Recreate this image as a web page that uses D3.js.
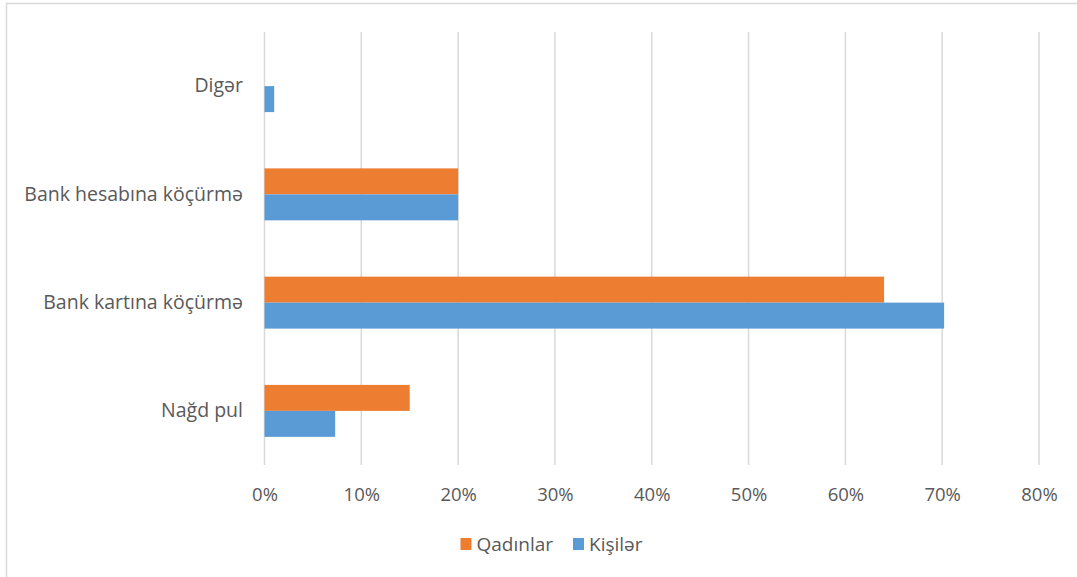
<!DOCTYPE html>
<html>
<head>
<meta charset="utf-8">
<script src="https://cdn.jsdelivr.net/npm/d3@7"></script>
<style>
  body { margin: 0; background: #fff; }
  svg { display: block; font-family: "Open Sans", sans-serif; }
</style>
</head>
<body>
<svg class="chart" width="1077" height="577"></svg>
<script>
// data (percent)
var categories = ["Digər", "Bank hesabına köçürmə", "Bank kartına köçürmə", "Nağd pul"];
var seriesNames = ["Qadınlar", "Kişilər"];
var qadinlar = [0, 20, 64, 15];
var kisiler = [1, 20, 70.2, 7.3];
var xTicks = [0, 10, 20, 30, 40, 50, 60, 70, 80];
var colors = ["#ED7D31", "#5B9BD5"];

var svg = d3.select(".chart");
var textColor = "#595959";

// chart frame
svg.append("rect")
  .attr("x", 6.5).attr("y", 3.5)
  .attr("width", 1100).attr("height", 600)
  .attr("fill", "none")
  .attr("stroke", "#d9d9d9")
  .attr("stroke-width", 1.5);

var plot = {left: 264.5, right: 1039, top: 32, bottom: 465};

var x = d3.scaleLinear().domain([0, 80]).range([plot.left, plot.right]);
var y = d3.scaleBand().domain(categories)
  .range([plot.top, plot.bottom])
  .paddingInner(0.52).paddingOuter(0.26);
var ySub = d3.scaleBand().domain(seriesNames).range([0, y.bandwidth()]);

//gridlines
svg.append("g")
  .selectAll("line")
  .data(xTicks)
  .enter().append("line")
  .attr("x1", function(d){ return x(d); })
  .attr("x2", function(d){ return x(d); })
  .attr("y1", plot.top)
  .attr("y2", plot.bottom)
  .attr("stroke", "#d9d9d9")
  .attr("stroke-width", 1.5);

//bars
var rows = categories.map(function(c, i){
  return {cat: c, values: [qadinlar[i], kisiler[i]]};
});

var groups = svg.append("g").selectAll("g")
  .data(rows)
  .enter().append("g")
  .attr("transform", function(d){ return "translate(0," + y(d.cat) + ")"; });

groups.selectAll("rect")
  .data(function(d){ return d.values.map(function(v, j){ return {name: seriesNames[j], value: v, j: j}; }); })
  .enter().append("rect")
  .attr("x", x(0))
  .attr("y", function(d){ return ySub(d.name); })
  .attr("width", function(d){ return x(d.value) - x(0); })
  .attr("height", ySub.bandwidth())
  .attr("fill", function(d){ return colors[d.j]; });

//bottom axis labels
var xAxis = d3.axisBottom(x).tickValues(xTicks)
  .tickFormat(function(d){ return d + "%"; })
  .tickSize(0).tickPadding(0);

svg.append("g")
  .attr("transform", "translate(0,495)")
  .call(xAxis)
  .call(function(g){ g.select(".domain").remove(); })
  .selectAll("text")
    .attr("dy", "0.35em")
    .attr("font-size", 18.5)
    .attr("font-family", "Open Sans, sans-serif")
    .attr("fill", textColor);

//left axis labels
var yAxis = d3.axisLeft(y).tickSize(0).tickPadding(0);
svg.append("g")
  .attr("transform", "translate(243,0)")
  .call(yAxis)
  .call(function(g){ g.select(".domain").remove(); })
  .selectAll("text")
    .attr("font-size", 19.5)
    .attr("font-family", "Open Sans, sans-serif")
    .attr("fill", textColor);

//legend, centred under the plot
var legend = svg.append("g").attr("transform", "translate(0,544)");
var items = [];
var cursor = 0;
seriesNames.forEach(function(name, i){
  var item = legend.append("g");
  item.append("rect")
    .attr("x", 0).attr("y", -6)
    .attr("width", 11).attr("height", 12)
    .attr("fill", colors[i]);
  var t = item.append("text")
    .attr("x", 16).attr("dy", "0.35em")
    .attr("font-size", 19)
    .attr("fill", textColor)
    .text(name);
  item.attr("transform", "translate(" + cursor + ",0)");
  cursor += 16 + t.node().getComputedTextLength() + 20;
  items.push(item);
});
var legendWidth = cursor - 20;
legend.attr("transform", "translate(" + (551.5 - legendWidth / 2) + ",544)");
</script>
</body>
</html>
